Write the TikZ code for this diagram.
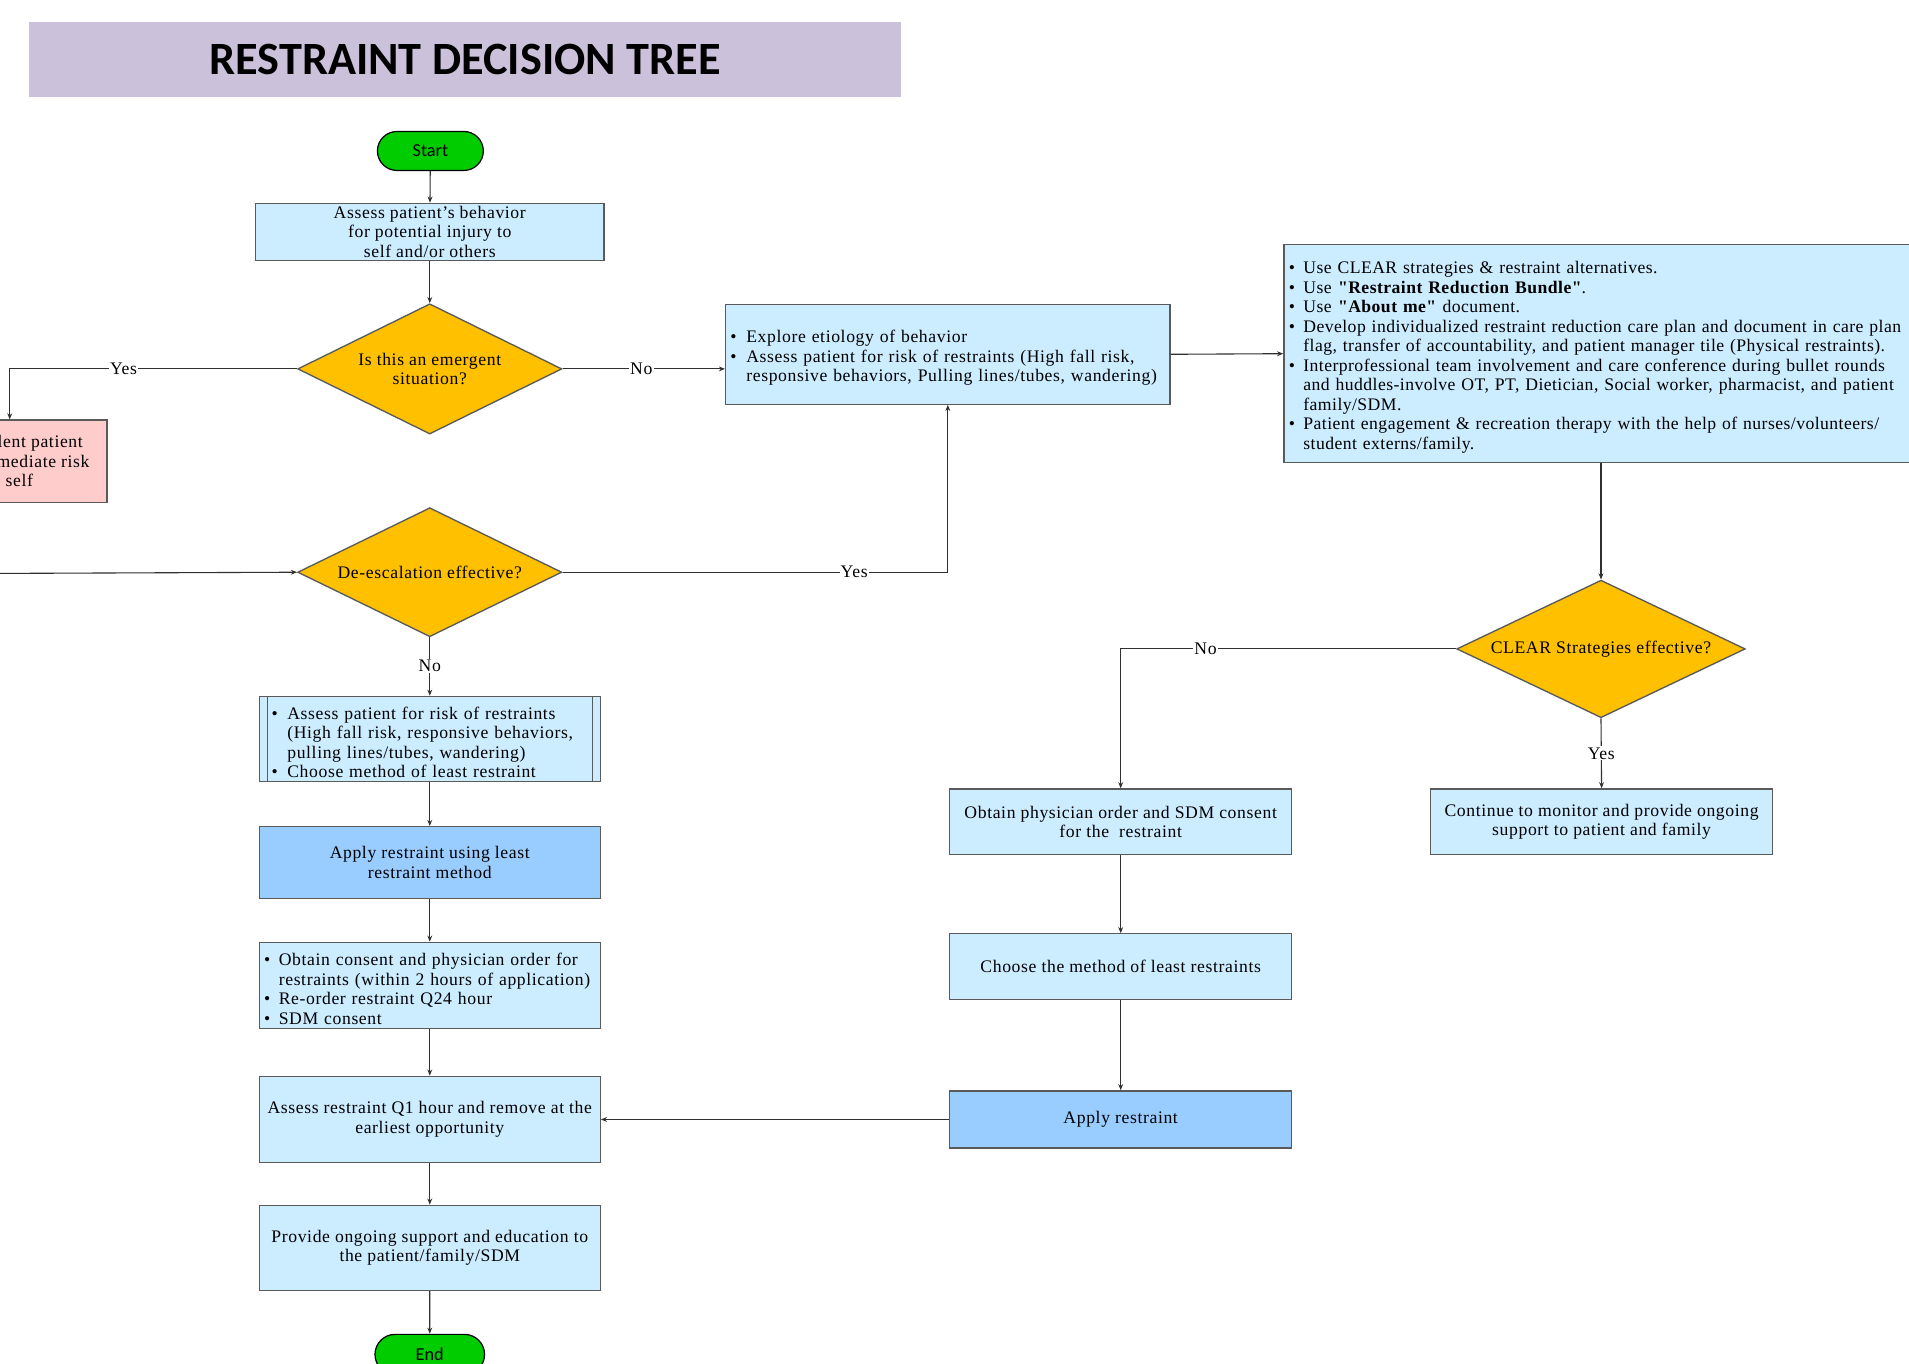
\documentclass[tikz,border=0pt]{standalone}
\usepackage{fontspec}
\setmainfont[LetterSpace=3.5]{Liberation Serif}
\newfontfamily\plainserif[LetterSpace=2.5]{Liberation Serif}
\newfontfamily\calib{Carlito}
\usetikzlibrary{shapes.geometric,shapes.misc,arrows.meta,calc}
\definecolor{lblue}{HTML}{CCECFF}
\definecolor{mblue}{HTML}{99CCFF}
\definecolor{goldf}{HTML}{FFC000}
\definecolor{pinkf}{HTML}{FFCCCC}
\definecolor{lav}{HTML}{CCC1DA}
\definecolor{greenf}{HTML}{00CC00}
\definecolor{edgec}{HTML}{5A5A5A}
\definecolor{connc}{HTML}{303030}
\newcommand{\bul}[1][13pt]{\par\noindent\hangindent=#1\hangafter=1\makebox[#1][l]{\textbullet}\ignorespaces}
\begin{document}
\begin{tikzpicture}[x=1pt,y=-1pt,
  font=\fontsize{14.5}{16}\selectfont,
  box/.style={draw=edgec, line width=1.1pt, fill=lblue, align=center, inner xsep=3pt, inner ysep=0pt},
  darkbox/.style={box, fill=mblue},
  listbox/.style={box, align=left, inner xsep=4pt},
  dec/.style={diamond, aspect=2, draw=edgec, line width=1.1pt, fill=goldf, inner sep=0pt, align=center},
  pill/.style={rounded rectangle, draw=black, line width=1pt, fill=greenf, inner sep=0pt, font=\calib\fontsize{15}{17}\selectfont},
  arr/.style={draw=connc, line width=0.9pt, -{Stealth[length=5pt,width=4pt]}},
  lbl/.style={fill=white, inner sep=1pt, font=\fontsize{14.5}{16}\selectfont}]
\useasboundingbox (0,0) rectangle (1568,1120);
\clip (0,0) rectangle (1568,1120);
\fill[white] (0,0) rectangle (1568,1120);

% title
\node[fill=lav, minimum width=716, minimum height=62, inner sep=0pt,
  font=\calib\bfseries\fontsize{38}{40}\selectfont] (title) at (382,49) {RESTRAINT DECISION TREE};

% left column
\node[pill, minimum width=87, minimum height=32] (start) at (353.5,124) {Start};
\node[box, minimum width=286, minimum height=47] (a1) at (353,190.5)
  {Assess patient{\char"0027}s behavior\\for potential injury to\\self and/or others};
\node[dec, minimum width=217, minimum height=107] (emerg) at (353,303) {Is this an emergent\\situation?};
\node[box, fill=pinkf, minimum width=160, minimum height=68] (pink) at (8,379)
  {Any violent patient\\poses immediate risk\\to self};
\node[dec, minimum width=217, minimum height=106] (deesc) at (353,470) {De-escalation effective?};
\coordinate (inL) at (-5,471);

\node[listbox, text width=260, inner xsep=10pt, minimum height=70] (risk) at (353,607)
  {\bul Assess patient for risk of restraints\newline (High fall risk, responsive behaviors,\newline pulling lines/tubes, wandering)
   \bul Choose method of least restraint\par};
\draw[edgec, line width=1.1pt] ($(risk.north west)+(7,0)$) -- ($(risk.south west)+(7,0)$);
\draw[edgec, line width=1.1pt] ($(risk.north east)+(-7,0)$) -- ($(risk.south east)+(-7,0)$);

\node[darkbox, minimum width=280, minimum height=59] (applyL) at (353,708.5)
  {Apply restraint using least\\restraint method};
\node[listbox, text width=272, minimum height=71] (consent) at (353,809.5)
  {\bul[12pt] Obtain consent and physician order for\newline restraints (within 2 hours of application)
   \bul[12pt] Re-order restraint Q24 hour
   \bul[12pt] SDM consent\par};
\node[box, minimum width=280, minimum height=71] (q1) at (353,919.5)
  {Assess restraint Q1 hour and remove at the\\earliest opportunity};
\node[box, minimum width=280, minimum height=70] (provide) at (353,1025)
  {Provide ongoing support and education to\\the patient/family/SDM};
\node[pill, minimum width=90, minimum height=33] (endn) at (353,1112.5) {End};

% middle / right
\node[listbox, text width=357, minimum height=82] (explore) at (778.5,291)
  {\bul Explore etiology of behavior
   \bul Assess patient for risk of restraints (High fall risk,\newline responsive behaviors, Pulling lines/tubes, wandering)\par};
\node[listbox, text width=560, minimum height=179, anchor=west,
  font=\plainserif\fontsize{14.5}{16}\selectfont] (clear) at (1054,290.5)
  {\bul[12pt] Use CLEAR strategies \& restraint alternatives.
   \bul[12pt] Use \textbf{"Restraint Reduction Bundle"}.
   \bul[12pt] Use \textbf{"About me"} document.
   \bul[12pt] Develop individualized restraint reduction care plan and document in care plan\newline flag, transfer of accountability, and patient manager tile (Physical restraints).
   \bul[12pt] Interprofessional team involvement and care conference during bullet rounds\newline and huddles-involve OT, PT, Dietician, Social worker, pharmacist, and patient\newline family/SDM.
   \bul[12pt] Patient engagement \& recreation therapy with the help of nurses/volunteers/\newline student externs/family.\par};
\node[dec, minimum width=237, minimum height=113] (cleard) at (1315,533) {CLEAR Strategies effective?};
\node[box, minimum width=281, minimum height=54] (obtain) at (920.5,675)
  {Obtain physician order and SDM consent\\for the \ restraint};
\node[box, minimum width=281, minimum height=54] (cont) at (1315.5,675)
  {Continue to monitor and provide ongoing\\support to patient and family};
\node[box, minimum width=281, minimum height=54] (choose) at (920.5,794)
  {Choose the method of least restraints};
\node[darkbox, minimum width=281, minimum height=47] (applyR) at (920.5,919.5) {Apply restraint};

% connectors
\draw[arr] (start) -- (a1);
\draw[arr] (a1) -- (emerg);
\draw[arr] (emerg.west) -- node[lbl, pos=0.604] {Yes} (emerg.west -| pink.north) -- (pink.north);
\draw[arr] (inL) -- (deesc.west);
\draw[arr] (emerg.east) -- node[lbl, pos=0.485] {No} (emerg.east -| explore.west);
\draw[arr] (deesc.east) -- node[lbl, pos=0.757] {Yes} (deesc.east -| explore.south) -- (explore.south);
\draw[arr] (explore.east) -- (clear.west);
\draw[arr] (cleard.north |- clear.south) -- (cleard.north);
\draw[arr] (cleard.west) -- node[lbl, pos=0.747] {No} (cleard.west -| obtain.north) -- (obtain.north);
\draw[arr] (cleard.south) -- node[lbl, pos=0.5] {Yes} (cont.north);
\draw[arr] (obtain) -- (choose);
\draw[arr] (choose) -- (applyR);
\draw[arr] (applyR.west) -- (q1.east);
\draw[arr] (deesc.south) -- node[lbl, pos=0.49] {No} (risk.north);
\draw[arr] (risk) -- (applyL);
\draw[arr] (applyL) -- (consent);
\draw[arr] (consent) -- (q1);
\draw[arr] (q1) -- (provide);
\draw[arr] (provide) -- (endn);
\end{tikzpicture}
\end{document}
